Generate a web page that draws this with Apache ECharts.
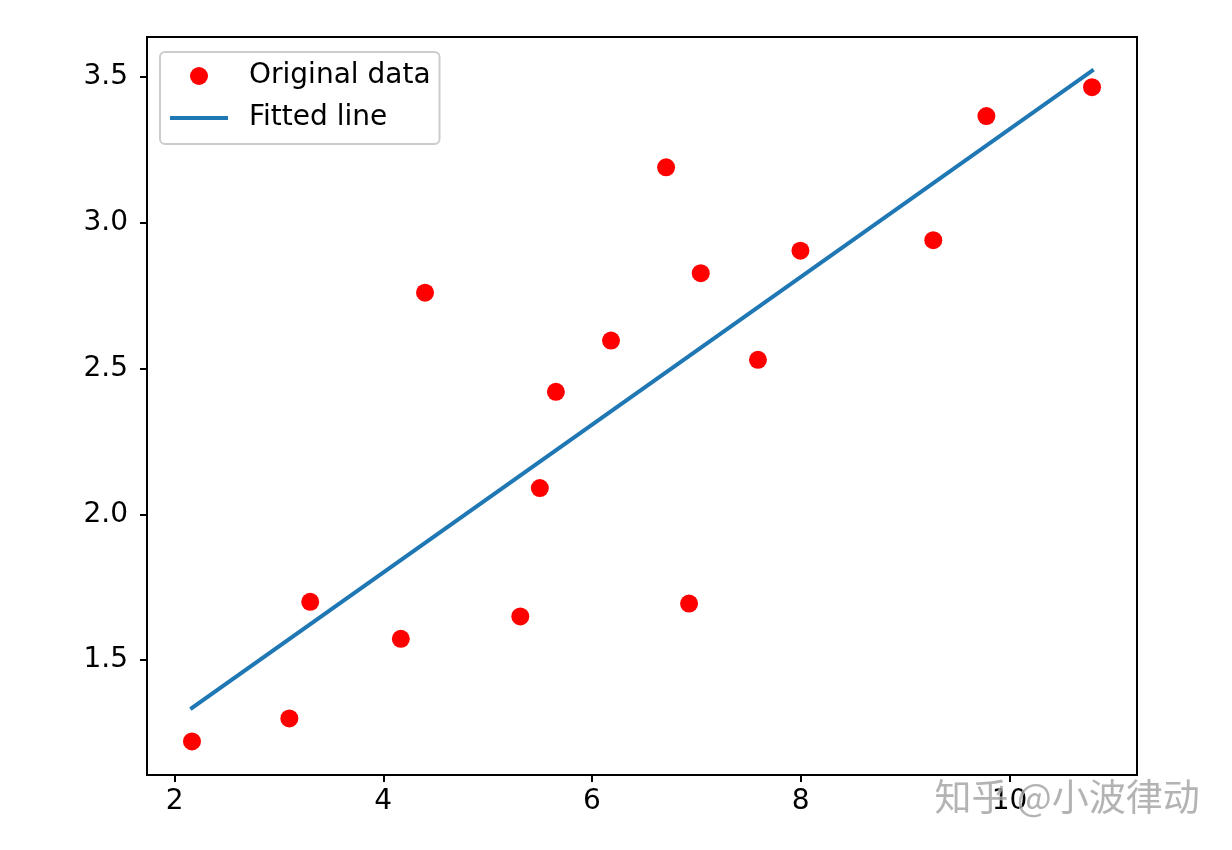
<!DOCTYPE html>
<html>
<head>
<meta charset="utf-8">
<title>Linear regression</title>
<script src="https://cdn.jsdelivr.net/npm/echarts@6/dist/echarts.min.js"></script>
<style>
  html, body { margin: 0; padding: 0; background: #fff; }
  #main { width: 1232px; height: 850px; }
</style>
</head>
<body>
<div id="main"></div>
<script>
// training data (x, y)
var xTrain = [3.3, 4.4, 5.5, 6.71, 6.93, 4.168, 9.779, 6.182, 7.59, 2.167, 7.042, 10.791, 5.313, 7.997, 5.654, 9.27, 3.1];
var yTrain = [1.7, 2.76, 2.09, 3.19, 1.694, 1.573, 3.366, 2.596, 2.53, 1.221, 2.827, 3.465, 1.65, 2.904, 2.42, 2.94, 1.3];
// fitted line end points
var fitX = [2.167, 10.791];
var fitY = [1.336, 3.521];
var xTicks = [2, 4, 6, 8, 10];
var yTicks = [1.5, 2.0, 2.5, 3.0, 3.5];

var font = "DejaVu Sans";
var chart = echarts.init(document.getElementById("main"));

var points = xTrain.map(function (x, i) { return [x, yTrain[i]]; });
var fitted = fitX.map(function (x, i) { return [x, fitY[i]]; });

chart.setOption({
  animation: false,
  grid: {
    left: 147, right: 95, top: 37, bottom: 75,
    show: true, borderColor: "#000", borderWidth: 2, backgroundColor: "transparent"
  },
  legend: {
    orient: "vertical",
    left: 160, top: 52,
    padding: [10, 9, 12, 10],
    itemGap: 14,
    itemWidth: 58, itemHeight: 18,
    backgroundColor: "rgba(255,255,255,0.8)",
    borderColor: "#cccccc", borderWidth: 2, borderRadius: 5,
    textStyle: { fontFamily: font, fontSize: 28, color: "#000", padding: [0, 0, 0, 16] },
    data: [
      { name: "Original data", icon: "circle" },
      { name: "Fitted line", icon: "path://M0,0 L58,0 L58,4 L0,4 Z" }
    ]
  },
  xAxis: {
    type: "value",
    min: 1.736, max: 11.222,
    splitLine: { show: false },
    axisLine: { show: true, lineStyle: { color: "#000", width: 2 } },
    axisTick: { show: true, length: 7, lineStyle: { color: "#000", width: 2 }, customValues: xTicks },
    axisLabel: { fontFamily: font, fontSize: 28, color: "#000", margin: 13, customValues: xTicks }
  },
  yAxis: {
    type: "value",
    min: 1.106, max: 3.637,
    splitLine: { show: false },
    axisLine: { show: true, lineStyle: { color: "#000", width: 2 } },
    axisTick: { show: true, length: 7, lineStyle: { color: "#000", width: 2 }, customValues: yTicks },
    axisLabel: {
      fontFamily: font, fontSize: 28, color: "#000", margin: 19, customValues: yTicks,
      formatter: function (v) { return v.toFixed(1); }
    }
  },
  series: [
    {
      name: "Original data",
      type: "scatter",
      data: points,
      symbol: "circle",
      symbolSize: 18,
      itemStyle: { color: "#ff0000", opacity: 1 },
      z: 3
    },
    {
      name: "Fitted line",
      type: "line",
      data: fitted,
      symbol: "none",
      lineStyle: { color: "#1f77b4", width: 4, cap: "square" },
      itemStyle: { color: "#1f77b4" },
      z: 2
    }
  ],
  graphic: [
    {
      type: "text",
      left: 934, top: 778,
      z: 100,
      style: {
        text: "知乎 @小波律动",
        fontFamily: "Noto Sans CJK SC",
        fontSize: 37,
        fill: "rgba(160,160,160,0.8)",
        stroke: "rgba(255,255,255,0.6)",
        lineWidth: 1
      }
    }
  ]
});
</script>
</body>
</html>
